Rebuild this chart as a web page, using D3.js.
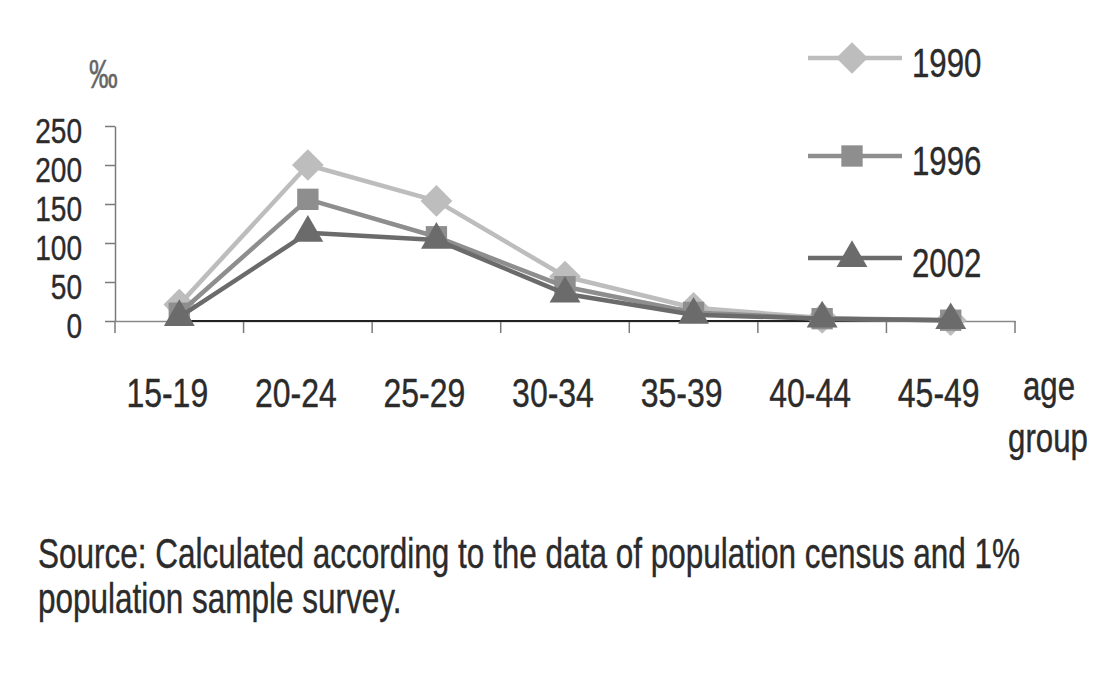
<!DOCTYPE html>
<html><head><meta charset="utf-8">
<script src="https://cdn.jsdelivr.net/npm/d3@7"></script>
<style>body{margin:0;background:#fff}svg{display:block}</style>
</head><body>
<svg id="c" width="1097" height="700"></svg>
<script>
const categories = ["15-19","20-24","25-29","30-34","35-39","40-44","45-49"];
const years = ["1990","1996","2002"];
const v1990 = [21, 200, 154, 57, 17, 4, 1];
const v1996 = [10, 156, 108, 44, 11, 3, 1];
const v2002 = [5, 113, 104, 35, 8, 3, 1];
const yTicks = [0, 50, 100, 150, 200, 250];
const yUnit = "‰";
const xTitle = ["age", "group"];
const sourceLines = ["Source: Calculated according to the data of population census and 1%", "population sample survey."];

const series = [
  {name: years[0], values: v1990, color: "#bdbdbd", shape: d3.symbolDiamond2, size: 640},
  {name: years[1], values: v1996, color: "#8e8e8e", shape: d3.symbolSquare2, size: 580},
  {name: years[2], values: v2002, color: "#6b6b6b", shape: d3.symbolTriangle2, size: 680}
];

const svg = d3.select("#c");
const FONT = "'Liberation Sans', Arial, sans-serif";
const SX = 0.78;
const TXT = "#2b2b2b";

function label(g, x, y, str, size, anchor, color, sx) {
  return g.append("text")
    .attr("transform", `translate(${x},${y}) scale(${sx || SX},1)`)
    .attr("text-anchor", anchor || "start")
    .attr("font-family", FONT)
    .attr("font-size", size)
    .attr("fill", color || TXT)
    .attr("stroke", color || TXT)
    .attr("stroke-width", 0.4)
    .text(str);
}

const x = d3.scaleBand().domain(categories).range([115, 1015]).padding(0);
const y = d3.scaleLinear().domain([0, 250]).range([321, 126]);

// y axis
const ya = svg.append("g").attr("transform", "translate(115,0)")
  .call(d3.axisLeft(y).tickValues(yTicks).tickSize(10).tickSizeOuter(0).tickFormat(""));
ya.select(".domain").attr("stroke", "#7a7a7a").attr("stroke-width", 1.5);
ya.selectAll(".tick line").attr("stroke", "#7a7a7a").attr("stroke-width", 1.5);
yTicks.forEach(t => label(svg, 82, y(t) + 17, String(t), 36, "end"));
label(svg, 89, 88, yUnit, 40, "start", "#666", 0.72);

// x axis
const xa = svg.append("g").attr("transform", `translate(0,${y(0)})`)
  .call(d3.axisBottom(x).tickSize(0).tickFormat(""));
xa.select(".domain").attr("stroke", "#8a8a8a").attr("stroke-width", 1.5);
const bounds = categories.map(c => x(c)).concat([x.range()[1]]);
xa.selectAll(".btick").data(bounds).enter().append("line")
  .attr("x1", d => d).attr("x2", d => d).attr("y1", 0).attr("y2", 12)
  .attr("stroke", "#7a7a7a").attr("stroke-width", 1.5);
svg.append("line")
  .attr("x1", x(categories[0]) + x.bandwidth()/2)
  .attr("x2", x(categories[categories.length-1]) + x.bandwidth()/2)
  .attr("y1", y(0)).attr("y2", y(0))
  .attr("stroke", "#222").attr("stroke-width", 2);
categories.forEach(c => label(svg, x(c) + x.bandwidth()/2 - 12, 407, c, 41, "middle"));
label(svg, 1049, 400, xTitle[0], 40, "middle");
label(svg, 1048, 452, xTitle[1], 40, "middle");

// lines
const line = d3.line().x((d, i) => x(categories[i]) + x.bandwidth()/2).y(d => y(d));
series.forEach(s => {
  const g = svg.append("g");
  g.append("path").datum(s.values).attr("d", line)
    .attr("fill", "none").attr("stroke", s.color).attr("stroke-width", 4.5)
    .attr("stroke-linejoin", "round");
  g.selectAll("path.m").data(s.values).enter().append("path")
    .attr("class", "m")
    .attr("transform", (d, i) => `translate(${x(categories[i]) + x.bandwidth()/2},${y(d)})`)
    .attr("d", d3.symbol().type(s.shape).size(s.size))
    .attr("fill", s.color);
});

// legend
const legY = [58, 156, 258];
series.forEach((s, i) => {
  const g = svg.append("g").attr("transform", `translate(0,${legY[i]})`);
  g.append("line").attr("x1", 808).attr("x2", 902).attr("y1", 0).attr("y2", 0)
    .attr("stroke", s.color).attr("stroke-width", 4.5);
  g.append("path").attr("transform", "translate(852,0)")
    .attr("d", d3.symbol().type(s.shape).size(s.size))
    .attr("fill", s.color);
  label(g, 912, 19, s.name, 40, "start");
});

// source
label(svg, 38, 568, sourceLines[0], 42, "start", TXT, 0.75);
label(svg, 38, 613, sourceLines[1], 42, "start", TXT, 0.75);
</script>
</body></html>
